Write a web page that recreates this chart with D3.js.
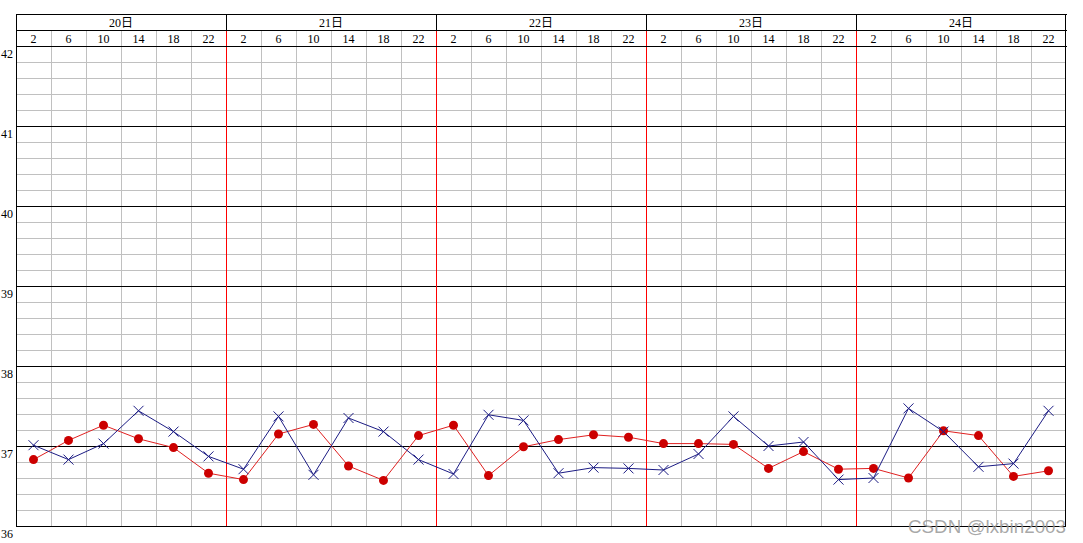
<!DOCTYPE html>
<html><head><meta charset="utf-8">
<script src="https://cdn.jsdelivr.net/npm/d3@7"></script>
<style>
html,body{margin:0;padding:0;background:#fff;}
svg{display:block;}
text{font-family:"Liberation Serif","Noto Sans CJK SC",serif;}
</style></head>
<body><svg id="c" width="1083" height="543"></svg>
<script>
const days = ["20日","21日","22日","23日","24日"];
const hours = [2,6,10,14,18,22];
const yTicks = [36,37,38,39,40,41,42];
// blue series (X markers)
const seriesBlue = [37.01,36.83,37.03,37.44,37.18,36.87, 36.71,37.37,36.64,37.35,37.18,36.83, 36.65,37.39,37.32,36.66,36.73,36.72, 36.70,36.90,37.37,37.00,37.05,36.58, 36.60,37.47,37.18,36.74,36.78,37.44];
// red series (dots)
const seriesRed = [36.83,37.07,37.26,37.09,36.98,36.66, 36.58,37.15,37.27,36.75,36.57,37.13, 37.26,36.63,36.99,37.08,37.14,37.11, 37.03,37.03,37.02,36.72,36.93,36.71, 36.72,36.60,37.19,37.13,36.62,36.69];

const svg = d3.select("#c");
const L = 16, R = 1066, T = 46, B = 526, HT = 14, HM = 30;
const nCols = days.length * hours.length;
const x = d3.scaleLinear().domain([0, nCols]).range([L, R]);
const y = d3.scaleLinear().domain([36, 42]).range([B, T]);
const px = v => Math.round(v);

// grid drawn as 1px rects for crisp pixels
const gGrid = svg.append("g").attr("shape-rendering", "crispEdges");
const hRect = (sel, data, color) => sel.selectAll(null).data(data).join("rect")
  .attr("x", L).attr("width", R - L).attr("y", d => px(y(d))).attr("height", 1).attr("fill", color);
const vRect = (sel, data, y0, y1, color) => sel.selectAll(null).data(data).join("rect")
  .attr("x", d => px(x(d))).attr("width", 1).attr("y", y0).attr("height", y1 - y0).attr("fill", color);

// minor horizontal grid (every 0.2)
const minor = d3.range(1, 30).filter(i => i % 5 !== 0).map(i => 36 + i * 0.2);
hRect(gGrid, minor, "#c0c0c0");
// vertical column grid
const colIdx = d3.range(1, nCols).filter(i => i % hours.length !== 0);
vRect(gGrid, colIdx, HM, B, "#c0c0c0");
// major horizontal lines
hRect(gGrid, yTicks, "#000000");
// day boundaries: black in the day row, red below
const dayB = d3.range(1, days.length).map(i => i * hours.length);
vRect(gGrid, dayB, HT, HM, "#000000");
vRect(gGrid, dayB, HM + 1, B, "#ff0000");
// header borders and frame
[HT, HM, T].forEach(v => gGrid.append("rect").attr("x", L).attr("width", R - L + 1).attr("y", v).attr("height", 1).attr("fill", "#000"));
gGrid.append("rect").attr("x", L).attr("width", 1).attr("y", HT).attr("height", B - HT + 1).attr("fill", "#000");
gGrid.append("rect").attr("x", R - 1).attr("width", 1).attr("y", HT).attr("height", B - HT + 1).attr("fill", "#000");

// header text
svg.selectAll("text.day").data(days).join("text").attr("class", "day")
  .attr("x", (d, i) => x(i * hours.length + hours.length / 2)).attr("y", 27)
  .attr("text-anchor", "middle").attr("font-size", 12).attr("fill", "#000").text(d => d);
const hourCells = d3.range(nCols).map(i => hours[i % hours.length]);
svg.selectAll("text.hr").data(hourCells).join("text").attr("class", "hr")
  .attr("x", (d, i) => x(i + 0.5)).attr("y", 43)
  .attr("text-anchor", "middle").attr("font-size", 12).attr("fill", "#000").text(d => d);
// y labels
svg.selectAll("text.yl").data(yTicks).join("text").attr("class", "yl")
  .attr("x", 1).attr("y", d => y(d) + 12)
  .attr("font-size", 12).attr("fill", "#000").text(d => d);

// red series
const line = d3.line().x((d, i) => x(i + 0.5)).y(d => y(d));
svg.append("path").datum(seriesRed).attr("d", line).attr("fill", "none").attr("stroke", "#e02020").attr("stroke-width", 1);
svg.selectAll("circle.r").data(seriesRed).join("circle").attr("class", "r")
  .attr("cx", (d, i) => x(i + 0.5)).attr("cy", d => y(d)).attr("r", 4.5).attr("fill", "#cc0000");
// blue series
svg.append("path").datum(seriesBlue).attr("d", line).attr("fill", "none").attr("stroke", "#1c1c84").attr("stroke-width", 1);
const s = 5;
svg.selectAll("path.xm").data(seriesBlue).join("path").attr("class", "xm")
  .attr("d", (d, i) => { const cx = x(i + 0.5), cy = y(d); return `M${cx-s},${cy-s}L${cx+s},${cy+s}M${cx-s},${cy+s}L${cx+s},${cy-s}`; })
  .attr("stroke", "#1c1c84").attr("stroke-width", 1).attr("fill", "none");

// watermark
svg.append("text").attr("x", 908).attr("y", 533)
  .style("font-family", "'Liberation Sans',Arial,sans-serif").attr("font-size", 19)
  .attr("textLength", 158).attr("lengthAdjust", "spacingAndGlyphs")
  .attr("fill", "#999999").attr("fill-opacity", 0.85).text("CSDN @lxbin2003");
</script></body></html>
